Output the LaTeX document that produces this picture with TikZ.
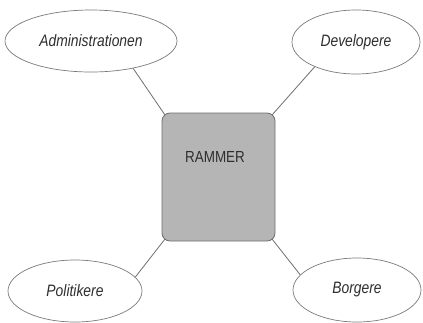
\documentclass[tikz,border=0pt]{standalone}
\usepackage{fontspec}
\setmainfont{Liberation Sans}
\newfontfamily\labfont[FakeStretch=0.84]{Liberation Sans}
\usetikzlibrary{shapes.geometric}
\definecolor{boxfill}{HTML}{B5B5B5}
\definecolor{edgegray}{HTML}{6E6E6E}
\definecolor{ringgray}{HTML}{7A7A7A}
\definecolor{txtgray}{HTML}{2E2E2E}
\begin{document}
\begin{tikzpicture}[x=1pt,y=-1pt,
  actor/.style={ellipse,draw=ringgray,line width=0.7pt,fill=white,inner sep=0pt,
     font=\labfont\itshape\fontsize{16.5}{16.5}\selectfont,text=txtgray},
  frame/.style={rectangle,rounded corners=8pt,draw=edgegray,line width=0.8pt,fill=boxfill,
     minimum width=113pt,minimum height=128pt,inner sep=0pt},
  link/.style={draw=edgegray,line width=0.8pt}]
\useasboundingbox (0,0) rectangle (423,322);
\node[frame] (box) at (218.5,177) {};
\node[font=\labfont\fontsize{16}{16}\selectfont,text=txtgray] (rammer) at (215,157) {RAMMER};
\node[actor,minimum width=172pt,minimum height=62pt] (adm) at (91,41) {Administrationen};
\node[actor,minimum width=128pt,minimum height=64pt] (dev) at (356,42) {Developere};
\node[actor,minimum width=134pt,minimum height=62pt] (pol) at (75,291) {Politikere};
\node[actor,minimum width=128pt,minimum height=64pt] (bor) at (357,290) {Borgere};
\coordinate (nw) at (165,115);
\coordinate (ne) at (272,115);
\coordinate (sw) at (165,239);
\coordinate (se) at (272,239);
\draw[link] (adm.-33) -- (nw);
\draw[link] (dev.211) -- (ne);
\draw[link] (pol.13) -- (sw);
\draw[link] (bor.165) -- (se);
\end{tikzpicture}
\end{document}
